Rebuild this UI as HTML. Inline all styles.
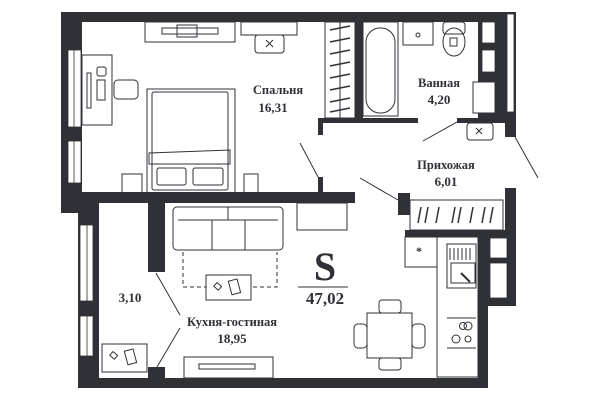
<!DOCTYPE html>
<html><head><meta charset="utf-8"><style>
html,body{margin:0;padding:0;background:#fff;width:600px;height:400px;overflow:hidden}
svg{display:block}
text{font-family:"Liberation Serif",serif;font-weight:bold;fill:#2f3137}
</style></head><body>
<svg width="600" height="400" viewBox="0 0 600 400" xmlns="http://www.w3.org/2000/svg">
<g fill="#2f3137">
<rect x="61" y="12" width="455" height="10"/>
<rect x="61" y="12" width="21" height="201"/>
<rect x="61" y="192" width="294" height="11"/>
<rect x="318" y="118" width="5" height="17"/>
<rect x="318" y="177" width="5" height="20"/>
<rect x="78" y="203" width="21" height="185"/>
<rect x="78" y="378" width="410" height="10"/>
<rect x="148" y="203" width="17" height="69"/>
<rect x="148" y="367" width="17" height="12"/>
<rect x="318" y="118" width="100" height="5"/>
<rect x="355" y="22" width="8" height="98"/>
<rect x="457" y="118" width="50" height="5"/>
<rect x="478" y="22" width="30" height="100"/>
<rect x="505" y="12" width="11" height="125"/>
<rect x="398" y="193" width="12" height="22"/>
<rect x="405" y="230" width="110" height="7"/>
<rect x="505" y="188" width="11" height="118"/>
<rect x="478" y="230" width="37" height="76"/>
<rect x="478" y="230" width="10" height="158"/>
</g>
<g fill="#fff" stroke="#2f3137" stroke-width="0.8">
<rect x="68" y="50" width="13" height="77"/><line x1="74" y1="50" x2="74" y2="127"/>
<rect x="68" y="141" width="13" height="42"/><line x1="74" y1="141" x2="74" y2="183"/>
<rect x="80" y="225" width="13" height="76"/><line x1="87" y1="225" x2="87" y2="301"/>
<rect x="80" y="316" width="13" height="40"/><line x1="87" y1="316" x2="87" y2="356"/>
<rect x="507" y="14" width="7" height="98"/>
<rect x="482" y="22" width="13" height="21"/><rect x="482" y="50" width="13" height="22"/>
<rect x="490" y="238" width="17" height="20"/><rect x="490" y="263" width="17" height="35"/>
</g>
<g fill="none" stroke="#2f3137" stroke-width="1">
<line x1="300" y1="143" x2="318" y2="177"/>
<line x1="360" y1="178" x2="398" y2="200"/>
<line x1="423" y1="141" x2="457" y2="122"/>
<line x1="515" y1="137" x2="538" y2="178"/>
<line x1="156" y1="273" x2="180" y2="315"/>
<line x1="180" y1="328" x2="157" y2="367"/>
<rect x="145" y="22" width="90" height="20"/>
<rect x="162" y="28" width="56" height="6"/><rect x="177" y="25" width="20" height="12"/>
<rect x="241" y="22" width="56" height="13"/>
<rect x="255" y="35" width="29" height="18" rx="3"/>
<path d="M266 40l7 7M273 40l-7 7"/>
<rect x="82" y="55" width="30" height="70"/>
<rect x="87" y="73" width="4" height="35"/>
<rect x="97" y="67" width="9" height="9" rx="2"/><rect x="97" y="80" width="8" height="20"/>
<rect x="114" y="80" width="24" height="19" rx="4"/>
<rect x="147" y="89" width="88" height="104"/>
<rect x="152" y="92" width="76" height="98" rx="2"/>
<path d="M149 153L230 150v14H149z"/>
<rect x="157" y="168" width="29" height="17" rx="2"/><rect x="193" y="168" width="30" height="17" rx="2"/>
<rect x="122" y="174" width="20" height="19"/><rect x="244" y="174" width="14" height="19"/>
<rect x="325" y="22" width="30" height="96"/>
<line x1="340" y1="22" x2="340" y2="118"/>
<path d="M330 30l20-4M330 42l20-4M330 54l20-4M330 66l20-4M330 78l20-4M330 90l20-4M330 102l20-4M330 112l20-4" stroke-width="1.5"/>
<rect x="363" y="22" width="35" height="94"/>
<rect x="366" y="28" width="29" height="85" rx="14"/>
<rect x="403" y="22" width="30" height="23"/><circle cx="418" cy="35" r="2"/>
<rect x="443" y="22" width="22" height="12" rx="3"/><ellipse cx="454" cy="42" rx="11" ry="14"/><rect x="450" y="38" width="7" height="8"/>
<rect x="473" y="82" width="22" height="31" fill="#fff"/>
<rect x="467" y="123" width="26" height="17" rx="3"/><path d="M476 128l6 6M482 128l-6 6"/>
<rect x="173" y="207" width="110" height="43" rx="4"/>
<line x1="178" y1="220" x2="278" y2="220"/>
<line x1="212" y1="220" x2="212" y2="250"/><line x1="245" y1="220" x2="245" y2="250"/>
<line x1="228" y1="207" x2="228" y2="220"/>
<path d="M183 252v35h94v-35" stroke-dasharray="4 3"/>
<rect x="206" y="275" width="45" height="25" fill="#fff"/>
<rect x="215" y="284" width="6" height="5" transform="rotate(40 218 286)"/>
<rect x="230" y="280" width="9" height="14" transform="rotate(-15 234 287)"/>
<rect x="102" y="344" width="45" height="28"/>
<rect x="111" y="353" width="6" height="5" transform="rotate(40 114 355)"/>
<rect x="126" y="350" width="9" height="14" transform="rotate(-15 130 357)"/>
<rect x="184" y="357" width="89" height="21"/><rect x="199" y="364" width="56" height="5"/>
<rect x="297" y="203" width="50" height="27"/>
<rect x="410" y="200" width="93" height="30"/>
<path d="M418 223l3-16M425 223l3-16M436 223l3-16M452 223l3-16M458 223l3-16M470 223l3-16M482 223l3-16M490 223l3-16" stroke-width="1.5"/>
<rect x="405" y="237" width="32" height="30"/>
<rect x="437" y="237" width="41" height="140"/>
<rect x="447" y="244" width="29" height="44"/><rect x="451" y="263" width="24" height="20"/>
<path d="M450 248v12M454 248v12M458 248v12M462 248v12M466 248v12M470 248v12"/>
<line x1="461" y1="273" x2="470" y2="282" stroke-width="2"/>
<line x1="447" y1="318" x2="476" y2="318"/><line x1="447" y1="348" x2="476" y2="348"/>
<circle cx="463" cy="326" r="3.5"/><circle cx="468" cy="326" r="4"/><circle cx="456" cy="339" r="4"/><circle cx="468" cy="339" r="3"/>
<rect x="367" y="313" width="45" height="45"/>
<rect x="379" y="300" width="22" height="13" rx="3"/><rect x="379" y="358" width="22" height="12" rx="3"/>
<rect x="354" y="324" width="13" height="24" rx="4"/><rect x="412" y="324" width="13" height="24" rx="4"/>
<line x1="298" y1="287" x2="348" y2="287"/>
</g>
<text x="419" y="255" font-size="12" text-anchor="middle">*</text>
<text x="278" y="94" font-size="12.5" text-anchor="middle">Спальня</text>
<text x="273" y="112" font-size="13" text-anchor="middle">16,31</text>
<text x="439" y="87" font-size="12.5" text-anchor="middle">Ванная</text>
<text x="439" y="104" font-size="13" text-anchor="middle">4,20</text>
<text x="446" y="169" font-size="12.5" text-anchor="middle">Прихожая</text>
<text x="446" y="186" font-size="13" text-anchor="middle">6,01</text>
<text x="325" y="280" font-size="40" text-anchor="middle">S</text>
<text x="325" y="304" font-size="17" text-anchor="middle">47,02</text>
<text x="130" y="302" font-size="13" text-anchor="middle">3,10</text>
<text x="232" y="326" font-size="12.5" text-anchor="middle">Кухня-гостиная</text>
<text x="232" y="343" font-size="13" text-anchor="middle">18,95</text>
</svg>
</body></html>
